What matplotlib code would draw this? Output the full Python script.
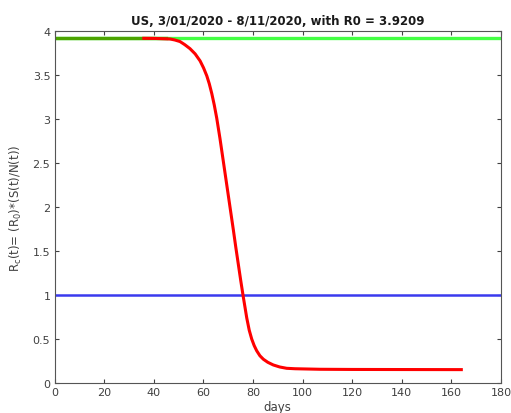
import matplotlib
matplotlib.use("Agg")
import matplotlib.pyplot as plt

R0 = 3.9209
title = "US, 3/01/2020 - 8/11/2020, with R0 = 3.9209"

early_days = [0, 45]
early_vals = [3.9209, 3.9209]

days = [36, 40, 43, 46.6, 48.5, 50.6, 52.5, 54.6, 56.7, 58.7, 60.1, 61.4, 62.4, 63.4, 64.4, 65.4,
        66.7, 68.0, 69.4, 70.8, 72.1, 73.1, 74.1, 75.1, 76.1, 76.8, 77.5, 78.5, 79.5, 80.5, 81.5,
        82.8, 84.2, 86.0, 88.2, 90.8, 93.6, 97, 100.3, 107, 120, 140, 164]
rc = [3.917, 3.916, 3.913, 3.909, 3.898, 3.88, 3.845, 3.80, 3.74, 3.66, 3.58, 3.49, 3.40, 3.29, 3.16, 3.01,
      2.78, 2.53, 2.26, 1.99, 1.74, 1.54, 1.35, 1.16, 0.98, 0.86, 0.74, 0.60, 0.50, 0.425, 0.367,
      0.31, 0.27, 0.235, 0.205, 0.182, 0.167, 0.162, 0.16, 0.156, 0.154, 0.153, 0.152]

xticks = [0, 20, 40, 60, 80, 100, 120, 140, 160, 180]
yticks = [0, 0.5, 1, 1.5, 2, 2.5, 3, 3.5, 4]
yticklabels = ["0", "0.5", "1", "1.5", "2", "2.5", "3", "3.5", "4"]

fig = plt.figure(figsize=(5.11, 4.14), dpi=100)
ax = fig.add_axes([54.5/511, 30/414, (501-54.5)/511, (384-32)/414])

ax.axhline(R0, color="#44ff44", lw=2.4, zorder=1)
ax.plot(early_days, early_vals, color="#4ca300", lw=2.4, zorder=2)
ax.axhline(1, color="#3a3aee", lw=1.8, zorder=2)
ax.plot(days, rc, color="#ff0000", lw=2.2, zorder=3, solid_joinstyle="round")

ax.set_xlim(0, 180)
ax.set_ylim(0, 4)
ax.set_xticks(xticks)
ax.set_yticks(yticks)
ax.set_yticklabels(yticklabels)
ax.tick_params(direction="in", top=True, right=True, length=3, width=0.8,
               labelsize=8, colors="#404040", labelcolor="#404040", pad=3)
for s in ax.spines.values():
    s.set_color("#555555")
    s.set_linewidth(0.8)

ax.set_title(title, fontsize=8.5, fontweight="bold", color="#1a1a1a", pad=5)
ax.set_xlabel("days", fontsize=8.5, color="#404040", labelpad=2)
ax.set_ylabel(r"R$_\mathrm{c}$(t)= (R$_\mathrm{0}$)*(S(t)/N(t))", fontsize=8.5, color="#404040", labelpad=6)

fig.savefig("out.png", dpi=100, facecolor="white")
